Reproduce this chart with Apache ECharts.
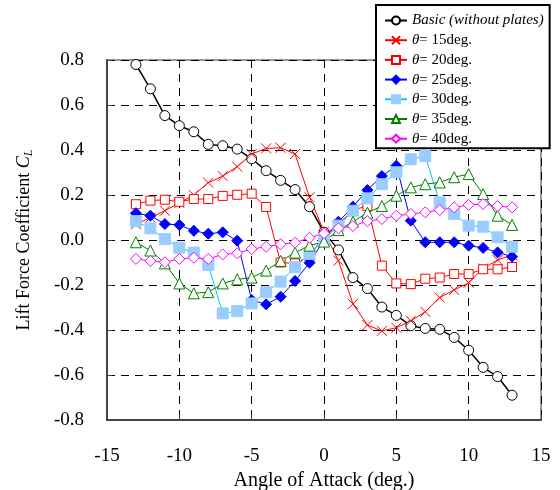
<!DOCTYPE html>
<html>
<head>
<meta charset="utf-8">
<script src="https://cdn.jsdelivr.net/npm/echarts@6/dist/echarts.min.js"></script>
<style>html,body{margin:0;padding:0;background:#fff}#c{width:560px;height:490px}</style>
</head>
<body>
<div id="c"></div>
<script>
var angles = [-13,-12,-11,-10,-9,-8,-7,-6,-5,-4,-3,-2,-1,0,1,2,3,4,5,6,7,8,9,10,11,12,13];
var basic = [0.78,0.672,0.553,0.508,0.481,0.425,0.419,0.404,0.361,0.308,0.265,0.224,0.148,0.035,-0.044,-0.167,-0.216,-0.298,-0.335,-0.381,-0.393,-0.397,-0.433,-0.490,-0.566,-0.607,-0.690];
var th15 = [0.07,0.10,0.13,0.165,0.20,0.255,0.284,0.326,0.382,0.407,0.41,0.382,0.19,0.037,-0.092,-0.284,-0.378,-0.404,-0.39,-0.359,-0.319,-0.256,-0.222,-0.19,-0.126,-0.089,-0.067];
var th20 = [0.159,0.175,0.179,0.170,0.182,0.182,0.196,0.201,0.206,0.147,-0.10,-0.104,-0.074,0.02,0.07,0.133,0.151,-0.114,-0.193,-0.196,-0.172,-0.167,-0.151,-0.151,-0.13,-0.13,-0.12];
var th25 = [0.119,0.108,0.071,0.067,0.041,0.028,0.034,-0.003,-0.267,-0.286,-0.252,-0.182,-0.101,0.0,0.081,0.148,0.222,0.284,0.33,0.086,-0.01,-0.01,-0.01,-0.025,-0.035,-0.055,-0.074];
var th30 = [0.084,0.052,0.004,-0.034,-0.056,-0.111,-0.326,-0.316,-0.282,-0.232,-0.185,-0.121,-0.062,0.003,0.064,0.13,0.185,0.248,0.301,0.359,0.373,0.167,0.116,0.064,0.059,0.012,-0.03];
var th35 = [-0.01,-0.047,-0.104,-0.193,-0.237,-0.232,-0.193,-0.175,-0.167,-0.136,-0.093,-0.056,-0.025,-0.007,0.044,0.081,0.121,0.151,0.197,0.234,0.248,0.256,0.279,0.293,0.204,0.108,0.067];
var th40 = [-0.084,-0.093,-0.099,-0.084,-0.079,-0.084,-0.064,-0.059,-0.04,-0.03,-0.019,-0.012,0.01,0.03,0.052,0.062,0.084,0.093,0.108,0.116,0.123,0.133,0.145,0.156,0.16,0.151,0.145];
var seriesNames = ['Basic (without plates)','θ= 15deg.','θ= 20deg.','θ= 25deg.','θ= 30deg.','θ= 35deg.','θ= 40deg.'];
var xTicks = [-15,-10,-5,0,5,10,15];
var yTicks = [-0.8,-0.6,-0.4,-0.2,0.0,0.2,0.4,0.6,0.8];

function pairs(v){ return angles.map(function(a,i){ return [a, v[i]]; }); }
var FONT = 'Liberation Serif';
var crossPath = 'path://M0,0L10,10M10,0L0,10';

function mk(name, data, lineColor, symbol, size, fill, stroke, lw){
  return {
    name: name, type: 'line', data: pairs(data), symbol: symbol, symbolSize: size,
    lineStyle: {color: lineColor, width: lw || 1},
    itemStyle: {color: fill, borderColor: stroke, borderWidth: 1},
    emphasis: {disabled: true}, animation: false, z: 3
  };
}

var chart = echarts.init(document.getElementById('c'));
chart.setOption({
  backgroundColor: '#fff',
  animation: false,
  grid: {left: 107, right: 19, top: 60, bottom: 70, containLabel: false, outerBoundsMode: 'none',
    show: true, borderColor: '#777', borderWidth: 1.5, backgroundColor: 'transparent'},
  legend: {
    orient: 'vertical', left: 376, top: 5, width: 175,
    padding: [8, 6, 2, 8], itemGap: 4.7, itemWidth: 22, itemHeight: 10,
    backgroundColor: '#fff', borderColor: '#000', borderWidth: 2, borderRadius: 0,
    data: seriesNames,
    formatter: function(n){
      if (n.indexOf('Basic') === 0) return '{it|' + n + '}';
      return '{it|θ}' + n.slice(1);
    },
    textStyle: {fontFamily: FONT, fontSize: 15, color: '#000', lineHeight: 15,
      rich: {it: {fontFamily: FONT, fontSize: 15, fontStyle: 'italic', color: '#000'}}}
  },
  xAxis: {
    type: 'value', min: -15, max: 15, interval: 5,
    axisLine: {show: true, onZero: false, lineStyle: {color: '#444', width: 2}},
    axisTick: {show: true, inside: true, length: 5, lineStyle: {color: '#444'}},
    axisLabel: {fontFamily: FONT, fontSize: 19, color: '#000', margin: 27,
      formatter: function(v){ return xTicks.indexOf(v) >= 0 ? String(v) : ''; }},
    splitLine: {show: true, lineStyle: {color: '#000', type: [8, 6], width: 1}},
    name: 'Angle of Attack (deg.)', nameLocation: 'middle', nameGap: 46,
    nameTextStyle: {fontFamily: FONT, fontSize: 20, color: '#000'}
  },
  yAxis: {
    type: 'value', min: -0.8, max: 0.8, interval: 0.2,
    axisLine: {show: true, onZero: false, lineStyle: {color: '#444', width: 2}},
    axisTick: {show: true, inside: true, length: 5, lineStyle: {color: '#444'}},
    axisLabel: {fontFamily: FONT, fontSize: 19, color: '#000', margin: 23,
      formatter: function(v){ return v.toFixed(1); }},
    splitLine: {show: true, lineStyle: {color: '#000', type: [8, 6], width: 1}},
    name: 'Lift Force Coefficient {i|C}{s|L}', nameLocation: 'middle', nameGap: 72,
    nameTextStyle: {fontFamily: FONT, fontSize: 18, color: '#000', lineHeight: 22,
      rich: {i: {fontFamily: FONT, fontSize: 18, fontStyle: 'italic', color: '#000', lineHeight: 22},
             s: {fontFamily: FONT, fontSize: 12, fontStyle: 'italic', color: '#000', verticalAlign: 'bottom', lineHeight: 22}}}
  },
  series: [
    mk(seriesNames[0], basic, '#000', 'circle', 10, '#fff', '#000', 1.5),
    mk(seriesNames[1], th15, '#ff0000', crossPath, 10, '#ff0000', '#ff0000'),
    mk(seriesNames[2], th20, '#ff0000', 'rect', 9, '#fff', '#ff0000'),
    mk(seriesNames[3], th25, '#0000ff', 'diamond', 11, '#0000ff', '#0000ff'),
    mk(seriesNames[4], th30, '#00ccff', 'rect', 11, '#99ccff', '#99ccff'),
    mk(seriesNames[5], th35, '#008000', 'triangle', 11, '#fff', '#008000'),
    mk(seriesNames[6], th40, '#ff00ff', 'diamond', 11, '#fff', '#ff00ff')
  ]
});
</script>
</body>
</html>
